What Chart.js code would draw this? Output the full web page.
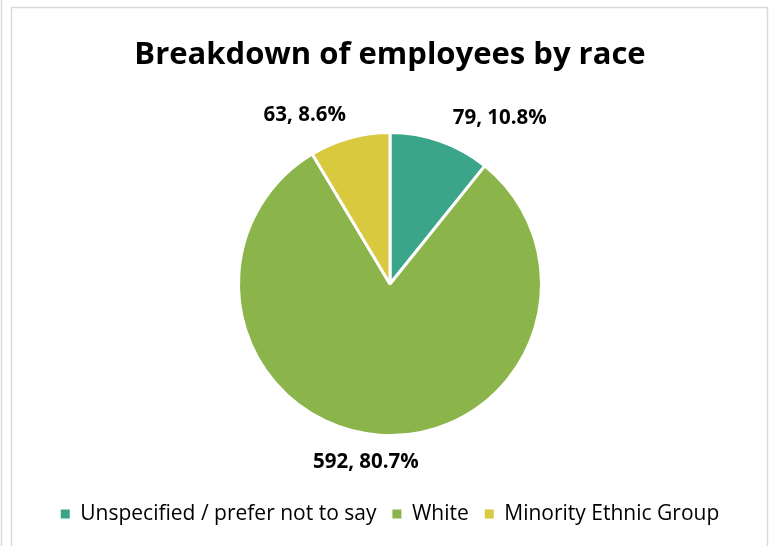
<!DOCTYPE html>
<html>
<head>
<meta charset="utf-8">
<script src="https://cdn.jsdelivr.net/npm/chart.js@4.4.1/dist/chart.umd.min.js"></script>
<style>
  html, body { margin: 0; padding: 0; background: #fff; }
  #wrap { width: 769px; height: 546px; position: relative; }
</style>
</head>
<body>
<div id="wrap"><canvas id="c" width="769" height="546"></canvas></div>
<script>
// Employee counts by race
const categories = ['Unspecified / prefer not to say', 'White', 'Minority Ethnic Group'];
const counts = [79, 592, 63];
const percents = [10.8, 80.7, 8.6];
const colors = ['#3BA58A', '#8BB54B', '#D9C93E'];

// Label placement around the pie: angle shift (deg) from the slice middle, distance as a multiple of radius
const labelPlacement = [
  { shift: 14.2, dist: 1.31 },
  { shift: 3.8, dist: 1.185 },
  { shift: -11.3, dist: 1.25 }
];

const FONT = '"Open Sans", Lato, sans-serif';

const frame = {
  id: 'frame',
  beforeDraw(chart) {
    const ctx = chart.ctx;
    ctx.save();
    ctx.fillStyle = '#fff';
    ctx.fillRect(0, 0, chart.width, chart.height);
    ctx.strokeStyle = '#d9d9d9';
    ctx.lineWidth = 1.5;
    ctx.beginPath();
    ctx.moveTo(1.5, 0); ctx.lineTo(1.5, chart.height);
    ctx.moveTo(11.5, chart.height); ctx.lineTo(11.5, 7.5);
    ctx.lineTo(767.5, 7.5); ctx.lineTo(767.5, chart.height);
    ctx.stroke();
    ctx.restore();
  }
};

const sliceLabels = {
  id: 'sliceLabels',
  afterDatasetsDraw(chart) {
    const ctx = chart.ctx;
    const meta = chart.getDatasetMeta(0);
    ctx.save();
    ctx.font = 'bold 20.5px ' + FONT;
    ctx.fillStyle = '#000';
    ctx.textAlign = 'center';
    ctx.textBaseline = 'middle';
    meta.data.forEach((arc, i) => {
      const p = arc.getProps(['x', 'y', 'startAngle', 'endAngle', 'outerRadius'], true);
      const mid = (p.startAngle + p.endAngle) / 2 + labelPlacement[i].shift * Math.PI / 180;
      const r = p.outerRadius * labelPlacement[i].dist;
      const x = p.x + Math.cos(mid) * r;
      const y = p.y + Math.sin(mid) * r;
      ctx.fillText(counts[i] + ', ' + percents[i].toFixed(1) + '%', x, y);
    });
    ctx.restore();
  }
};

new Chart(document.getElementById('c'), {
  type: 'pie',
  data: {
    labels: categories,
    datasets: [{
      data: counts,
      backgroundColor: colors,
      borderColor: '#fff',
      borderWidth: 3
    }]
  },
  options: {
    responsive: false,
    animation: false,
    layout: { padding: { top: 0, bottom: 11.5, left: 11, right: 0 } },
    plugins: {
      title: {
        display: true,
        text: 'Breakdown of employees by race',
        color: '#000',
        font: { family: FONT, size: 31, weight: 'bold', lineHeight: 1.2 },
        padding: { top: 36.4, bottom: 57.4 }
      },
      legend: {
        position: 'bottom',
        title: { display: true, text: '', font: { size: 1, lineHeight: 1 }, padding: { top: 49.5, bottom: 0 } },
        labels: {
          boxWidth: 9,
          boxHeight: 9,
          padding: 16,
          color: '#000',
          font: { family: FONT, size: 21 },
          generateLabels: () => categories.map((name, i) => ({
            text: name,
            fillStyle: colors[i],
            strokeStyle: colors[i],
            fontColor: '#000',
            lineWidth: 0,
            hidden: false,
            index: i,
            datasetIndex: 0
          }))
        }
      },
      tooltip: { enabled: false }
    }
  },
  plugins: [frame, sliceLabels]
});
</script>
</body>
</html>
